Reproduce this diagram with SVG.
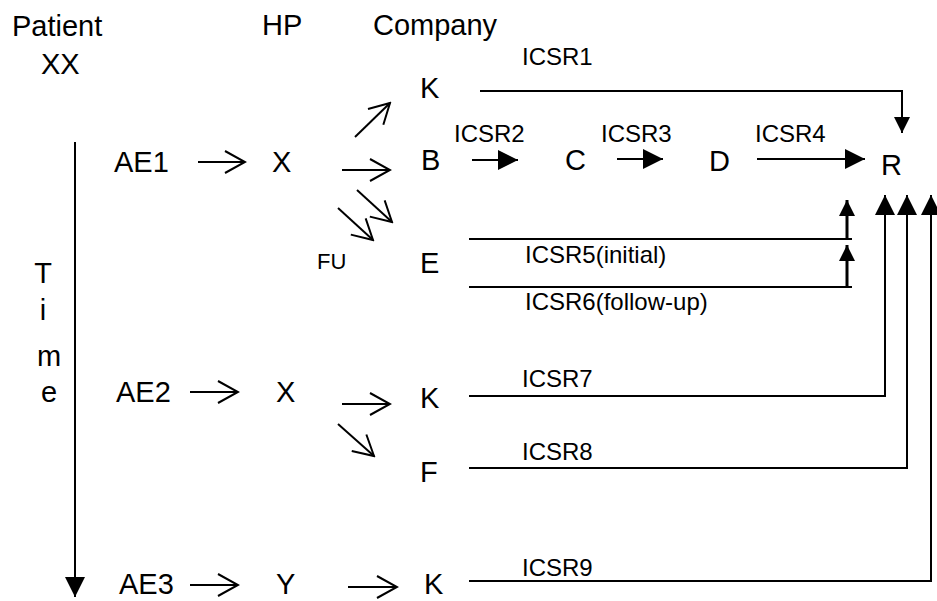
<svg xmlns="http://www.w3.org/2000/svg" width="937" height="601" viewBox="0 0 937 601">
<style>
text{font-family:"Liberation Sans",Arial,sans-serif;fill:#000}
.m{font-size:29px}
.s{font-size:24px}
.fu{font-size:22px}
.c line,.c polyline{stroke:#000;stroke-width:2;fill:none}
.c .thick{stroke-width:3}
.o{marker-end:url(#open)}
.f{marker-end:url(#fill)}
.fs{marker-end:url(#fillS)}
</style>
<defs>
<marker id="open" markerUnits="userSpaceOnUse" viewBox="0 0 24 24" markerWidth="24" markerHeight="24" refX="22" refY="12" orient="auto">
<polyline points="2,1 22,12 2,23" fill="none" stroke="#000" stroke-width="2"/>
</marker>
<marker id="fill" markerUnits="userSpaceOnUse" viewBox="0 0 20 20" markerWidth="20" markerHeight="20" refX="20" refY="10" orient="auto">
<path d="M0,0 L20,10 L0,20 Z" fill="#000"/>
</marker>
<marker id="fillS" markerUnits="userSpaceOnUse" viewBox="0 0 16 16" markerWidth="16" markerHeight="16" refX="16" refY="8" orient="auto">
<path d="M0,0 L16,8 L0,16 Z" fill="#000"/>
</marker>
</defs>

<g id="headers">
<text class="m" x="12" y="36">Patient</text>
<text class="m" x="41" y="74">XX</text>
<text class="m" x="262" y="35">HP</text>
<text class="m" x="373" y="35">Company</text>
</g>
<g id="time">
<text class="m" x="43" y="283" text-anchor="middle">T</text>
<text class="m" x="43" y="320" text-anchor="middle">i</text>
<text class="m" x="49" y="366" text-anchor="middle">m</text>
<text class="m" x="49" y="402" text-anchor="middle">e</text>
</g>
<g id="AE1"><text class="m" x="114" y="172">AE1</text></g>
<g id="X1"><text class="m" x="272" y="172">X</text></g>
<g id="K1"><text class="m" x="420" y="98">K</text></g>
<g id="B"><text class="m" x="421" y="170">B</text></g>
<g id="C"><text class="m" x="565" y="170">C</text></g>
<g id="D"><text class="m" x="709" y="171">D</text></g>
<g id="R"><text class="m" x="881" y="175">R</text></g>
<g id="FU"><text class="fu" x="317" y="269">FU</text></g>
<g id="E"><text class="m" x="420" y="273">E</text></g>
<g id="AE2"><text class="m" x="116" y="402">AE2</text></g>
<g id="X2"><text class="m" x="276" y="402">X</text></g>
<g id="K2"><text class="m" x="420" y="408">K</text></g>
<g id="F"><text class="m" x="420" y="482">F</text></g>
<g id="AE3"><text class="m" x="119" y="594">AE3</text></g>
<g id="Y"><text class="m" x="276" y="594">Y</text></g>
<g id="K3"><text class="m" x="424" y="594">K</text></g>

<g id="labels">
<text class="s" x="522" y="65">ICSR1</text>
<text class="s" x="454" y="142">ICSR2</text>
<text class="s" x="601" y="142">ICSR3</text>
<text class="s" x="755" y="142">ICSR4</text>
<text class="s" x="525" y="263">ICSR5(initial)</text>
<text class="s" x="525" y="310">ICSR6(follow-up)</text>
<text class="s" x="522" y="387">ICSR7</text>
<text class="s" x="522" y="460">ICSR8</text>
<text class="s" x="522" y="576">ICSR9</text>
</g>

<g id="connectors" class="c">
<line class="f" x1="75" y1="142" x2="75" y2="597"/>
<line class="o" x1="198" y1="162" x2="245" y2="162"/>
<line class="o" x1="355" y1="137" x2="390" y2="103"/>
<line class="o" x1="342" y1="170" x2="390" y2="170"/>
<line class="o" x1="357" y1="190" x2="392" y2="222"/>
<line class="o" x1="338" y1="208" x2="373" y2="240"/>
<line class="o" x1="190" y1="392" x2="238" y2="392"/>
<line class="o" x1="342" y1="404" x2="390" y2="404"/>
<line class="o" x1="338" y1="424" x2="374" y2="456"/>
<line class="o" x1="190" y1="585" x2="238" y2="585"/>
<line class="o" x1="348" y1="587" x2="397" y2="587"/>
<polyline class="fs" points="480,91 902,91 902,133"/>
<line class="f" x1="472" y1="160" x2="518" y2="160"/>
<line class="f" x1="617" y1="159" x2="663" y2="159"/>
<line class="f" x1="757" y1="159" x2="865" y2="159"/>
<line x1="469" y1="239" x2="852" y2="239"/>
<line class="fs thick" x1="847" y1="239" x2="847" y2="200"/>
<line x1="469" y1="287" x2="852" y2="287"/>
<line class="fs thick" x1="847" y1="287" x2="847" y2="245"/>
<polyline class="f" points="469,396 885,396 885,195"/>
<polyline class="f" points="469,468 907,468 907,195"/>
<polyline class="f" points="469,581 931,581 931,195"/>
</g>
</svg>
